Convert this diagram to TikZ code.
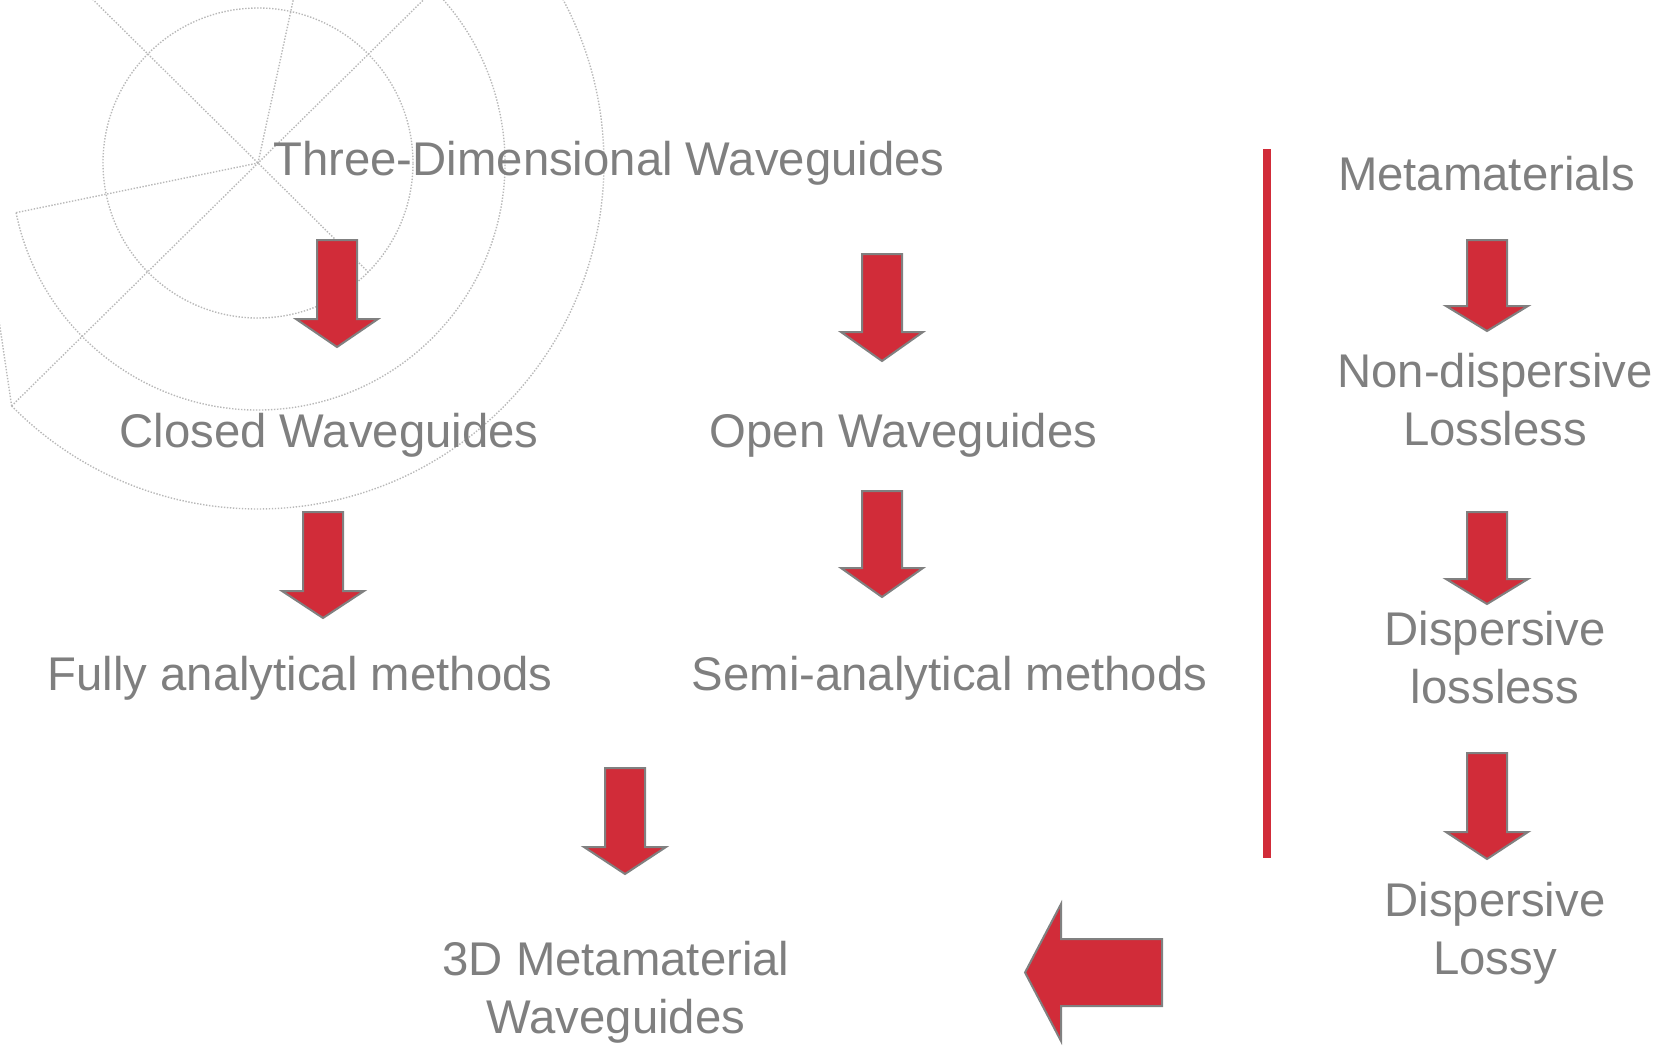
\documentclass[tikz,border=0pt]{standalone}
\usepackage{fontspec}
\setmainfont{Liberation Sans}
\usetikzlibrary{calc}

\definecolor{txtgray}{HTML}{7F7F7F}
\definecolor{blockred}{HTML}{D12C39}
\definecolor{rimgray}{HTML}{808080}
\definecolor{ringgray}{HTML}{B8B8B8}

\tikzset{
  lbl/.style={text=txtgray, font=\fontsize{47.3}{57.5}\selectfont,
              inner sep=0pt, anchor=base, align=center},
  blockarrow/.style={fill=blockred, draw=rimgray, line width=2pt, line join=miter},
  ring/.style={draw=ringgray, line width=1.4pt, dash pattern=on 1.4pt off 1.6pt},
}

% downward block arrow: centre x, top y, head-base y, tip y (y counted downwards)
\newcommand\dnblock[4]{%
  \draw[blockarrow] (#1-20,-#2) -- (#1+20,-#2) -- (#1+20,-#3) -- (#1+41,-#3)
    -- (#1,-#4) -- (#1-41,-#3) -- (#1-20,-#3) -- cycle;}

\begin{document}
\begin{tikzpicture}[x=1pt, y=1pt]
\useasboundingbox (0,0) rectangle (1669,-1045);

% dotted ring ornament in the upper left corner
\begin{scope}
  \clip (0,0) rectangle (1669,-1045);
  \coordinate (hub) at (258,-163);
  \coordinate (c1) at ($(hub)+(191.6:247)$);
  \coordinate (c2) at ($(hub)+(224.6:346)$);
  \draw[ring] (hub) circle[radius=155];
  \draw[ring] (c1) arc[start angle=191.6, end angle=450, radius=247];
  \draw[ring] (c2) arc[start angle=224.6, end angle=450, radius=346];
  \draw[ring] (c1) -- (hub);
  \draw[ring] (c2) -- ($(hub)+(44.6:320)$);
  \draw[ring] ($(hub)+(135.3:320)$) -- ($(hub)+(315.3:155)$);
  \draw[ring] (hub) -- ($(hub)+(77.8:320)$);
  \draw[ring] (c2) -- (-4,-300);
\end{scope}

% labels (two-line labels are placed by the baseline of their last line)
\node[lbl] (threed)  at (609,-175)   {Three-Dimensional Waveguides};
\node[lbl] (closed)  at (329,-447)   {Closed Waveguides};
\node[lbl] (open)    at (903.5,-447) {Open Waveguides};
\node[lbl] (fully)   at (300,-690)   {Fully analytical methods};
\node[lbl] (semi)    at (949.5,-690) {Semi-analytical methods};
\node[lbl] (meta3d)  at (616,-1033)  {3D Metamaterial\\Waveguides};
\node[lbl] (meta)    at (1486.5,-190) {Metamaterials};
\node[lbl] (nondisp) at (1495,-445)  {Non-dispersive\\Lossless};
\node[lbl] (displl)  at (1495,-703)  {Dispersive\\lossless};
\node[lbl] (disply)  at (1495,-974)  {Dispersive\\Lossy};

% block arrows
\dnblock{337}{240}{319}{347}
\dnblock{882}{254}{332}{361}
\dnblock{323}{512}{591}{618}
\dnblock{882}{491}{568}{597}
\dnblock{625}{768}{847}{874}
\dnblock{1487}{240}{306}{331}
\dnblock{1487}{512}{579}{604}
\dnblock{1487}{753}{832}{859}

% leftward block arrow into the 3D metamaterial waveguides
\draw[blockarrow] (1162,-939) -- (1162,-1006) -- (1061,-1006) -- (1061,-1041)
  -- (1025,-972.5) -- (1061,-904) -- (1061,-939) -- cycle;

% red divider
\fill[blockred] (1263,-149) rectangle (1271,-858);
\end{tikzpicture}
\end{document}
